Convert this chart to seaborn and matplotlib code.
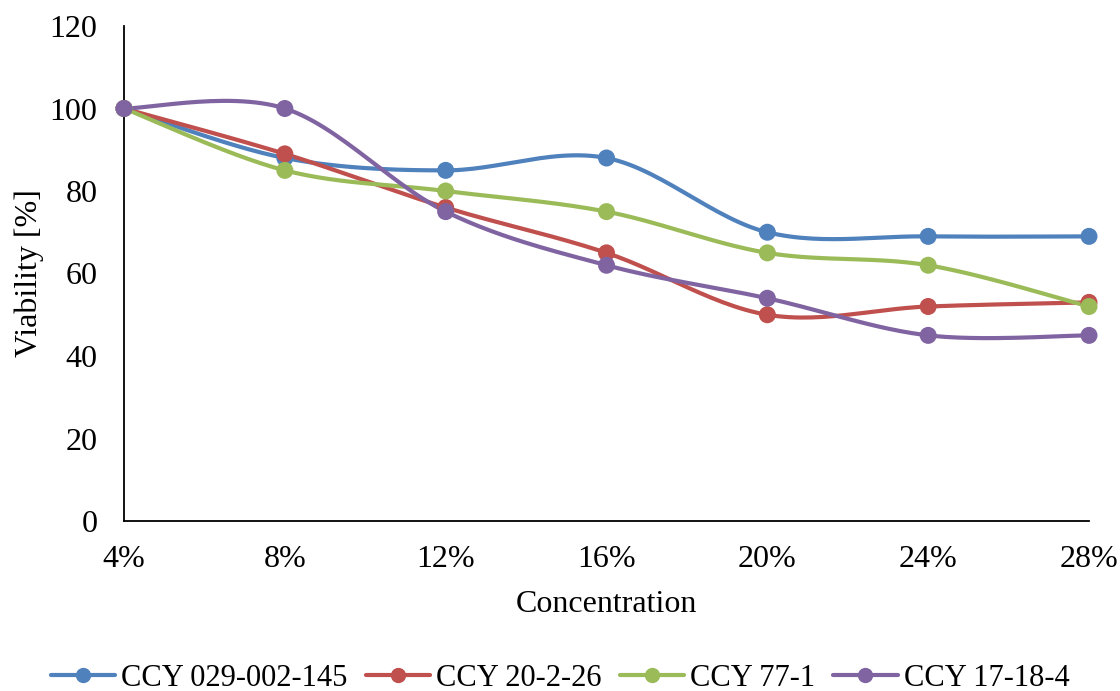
import numpy as np
import pandas as pd
import matplotlib
matplotlib.use("Agg")
import matplotlib.pyplot as plt
import seaborn as sns

concentrations = ["4%", "8%", "12%", "16%", "20%", "24%", "28%"]
ccy_029 = [100, 88, 85, 88, 70, 69, 69]
ccy_20 = [100, 89, 76, 65, 50, 52, 53]
ccy_77 = [100, 85, 80, 75, 65, 62, 52]
ccy_17 = [100, 100, 75, 62, 54, 45, 45]

series_names = ["CCY 029-002-145", "CCY 20-2-26", "CCY 77-1", "CCY 17-18-4"]
series_values = [ccy_029, ccy_20, ccy_77, ccy_17]
colors = ["#4F81BD", "#C0504D", "#9BBB59", "#8064A2"]


def smooth(x, y, n=30):
    # Excel-like smoothed line: cubic Bezier with Catmull-Rom control points
    pts = np.column_stack([x, y]).astype(float)
    ext = np.vstack([pts[0], pts, pts[-1]])
    out = []
    for i in range(len(pts) - 1):
        p0, p1, p2, p3 = ext[i], ext[i + 1], ext[i + 2], ext[i + 3]
        c1 = p1 + (p2 - p0) / 6
        c2 = p2 - (p3 - p1) / 6
        t = np.linspace(0, 1, n)[:, None]
        seg = ((1 - t) ** 3) * p1 + 3 * ((1 - t) ** 2) * t * c1 + 3 * (1 - t) * t ** 2 * c2 + t ** 3 * p2
        out.append(seg if i == 0 else seg[1:])
    out = np.vstack(out)
    return out[:, 0], out[:, 1]


sns.set_style("white")
plt.rcParams["font.family"] = ["Liberation Serif", "DejaVu Serif"]
plt.rcParams["text.color"] = "black"
plt.rcParams["axes.labelcolor"] = "black"
plt.rcParams["xtick.color"] = "black"
plt.rcParams["ytick.color"] = "black"

fig = plt.figure(figsize=(11.2, 6.91), dpi=100)
ax = fig.add_axes([124 / 1120, 1 - 521 / 691, (1089 - 124) / 1120, (521 - 26) / 691])

x = np.arange(len(concentrations))
handles = []
for name, vals, col in zip(series_names, series_values, colors):
    sx, sy = smooth(x, vals)
    df = pd.DataFrame({"x": sx, "y": sy})
    sns.lineplot(data=df, x="x", y="y", ax=ax, color=col, linewidth=3, sort=False, estimator=None)
    pdf = pd.DataFrame({"x": x, "y": vals})
    sns.scatterplot(data=pdf, x="x", y="y", ax=ax, color=col, s=150, edgecolor="none", zorder=3, clip_on=False)
    handles.append(plt.Line2D([], [], color=col, linewidth=3, marker="o", markersize=10, label=name))

ax.set_xlim(0, len(concentrations) - 1)
ax.set_ylim(0, 120)
ax.set_xticks(x)
ax.set_xticklabels(concentrations)
ax.set_yticks(range(0, 121, 20))
ax.tick_params(axis="y", labelsize=23, length=0, pad=19)
ax.tick_params(axis="x", labelsize=23, length=0, pad=17)
ax.set_xlabel("Concentration", fontsize=23, labelpad=12)
ax.set_ylabel("Viability [%]", fontsize=23, labelpad=4)

for s in ["top", "right"]:
    ax.spines[s].set_visible(False)
for s in ["left", "bottom"]:
    ax.spines[s].set_color("black")
    ax.spines[s].set_linewidth(1.3)

fig.legend(handles=handles, loc="center", bbox_to_anchor=(0.5, 1 - 678 / 691), ncol=4,
           frameon=False, fontsize=22, handlelength=2.1, columnspacing=0.6, handletextpad=0.2)

fig.savefig("out.png", dpi=100)
